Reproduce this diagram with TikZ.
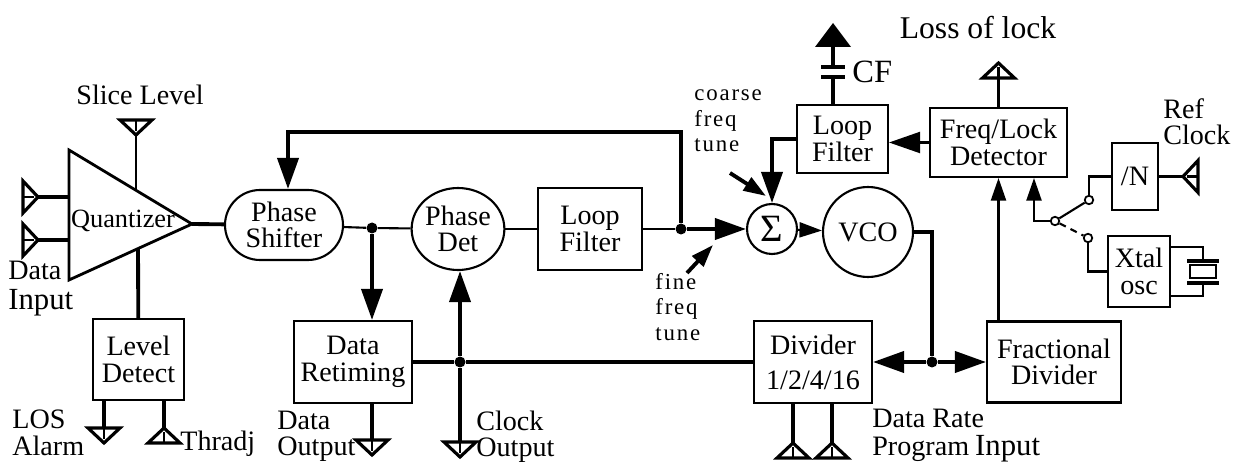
\documentclass[tikz,border=0pt]{standalone}
\usepackage{fontspec}
\setmainfont{Liberation Serif}
\newfontfamily\tunefont[LetterSpace=8]{Liberation Serif}
\usetikzlibrary{arrows.meta,shapes.geometric,shapes.misc}

\newcommand{\lbfont}{\fontsize{16}{15}\selectfont}
\newcommand{\tunesize}{\fontsize{13}{14.5}\tunefont}

\tikzset{
    block/.style = {rectangle, draw=black, line width=1.2pt, inner sep=0pt, align=center, font=\lbfont},
    oval/.style = {rounded rectangle, draw=black, line width=1.2pt, inner sep=0pt, align=center, font=\lbfont},
    roundblock/.style = {ellipse, draw=black, line width=1.2pt, inner sep=0pt, align=center, font=\lbfont},
    lbl/.style = {inner sep=0pt, align=left, font=\lbfont},
    wire/.style = {line width=1.2pt},
    bus/.style = {line width=2.2pt},
    arrow/.style = {-{Triangle[length=0.62cm,width=0.42cm]}},
    smallarrow/.style = {-{Triangle[length=0.45cm,width=0.3cm]}},
    dot/.style = {circle, fill=black, inner sep=0pt, minimum size=0.22cm},
    term/.style = {circle, draw=black, fill=white, line width=1pt, inner sep=0pt, minimum size=0.17cm},
    port/.pic = {
        \draw [line width=1.8pt, line join=miter] (0,0) -- (-15,-16) -- (-15,16) -- cycle;
        \draw [line width=1.2pt] (-15,0) -- (-4,0);
    }
}

\begin{document}
\begin{tikzpicture}[x=0.02cm, y=-0.02cm]
\useasboundingbox (0,0) rectangle (1244,462);

% quantizer
\coordinate (qa) at (69,150);
\coordinate (qb) at (69,280);
\coordinate (qout) at (192,224);
\coordinate (qtop) at (136,190);
\coordinate (qbot) at (138,249);
\coordinate (qin1) at (69,197);
\coordinate (qin2) at (69,240);
\draw [line width=1.6pt, line join=miter] (qa) -- (qout) -- (qb) -- cycle;
\node (quant) [lbl, font=\fontsize{15}{15}\selectfont] at (123,221) {Quantizer};

% blocks
\node (shifter) [oval, minimum width=2.36cm, minimum height=1.4cm] at (284,225) {Phase\\Shifter};
\node (phdet) [roundblock, minimum width=1.78cm, minimum height=1.64cm] at (458,229) {Phase\\Det};
\node (lf1) [block, minimum width=2.08cm, minimum height=1.64cm] at (590,229) {Loop\\Filter};
\node (levdet) [block, minimum width=1.82cm, minimum height=1.62cm] at (138.5,359.5) {Level\\Detect};
\node (retime) [block, minimum width=2.36cm, minimum height=1.64cm] at (353,362) {Data\\Retiming};
\node (sum) [circle, draw=black, line width=1.2pt, inner sep=0pt, minimum size=1cm, font=\fontsize{22}{22}\selectfont] at (772,229) {Σ};
\node (vco) [circle, draw=black, line width=1.2pt, inner sep=0pt, minimum size=1.8cm, font=\lbfont] at (868,232) {VCO};
\node (lf2) [block, minimum width=1.82cm, minimum height=1.36cm] at (842.5,139) {Loop\\Filter};
\node (fld) [block, minimum width=2.74cm, minimum height=1.38cm] at (998.5,142.5) {Freq/Lock\\Detector};
\node (divn) [block, minimum width=0.92cm, minimum height=1.34cm] at (1135,176.5) {/N};
\node (xtal) [block, minimum width=1.24cm, minimum height=1.42cm] at (1139,271.5) {Xtal\\osc};
\node (divider) [block, minimum width=2.36cm, minimum height=1.64cm] at (813,362) {Divider\\[5pt]1/2/4/16};
\node (fracdiv) [block, minimum width=2.68cm, minimum height=1.62cm] at (1054,362) {Fractional\\Divider};

% junctions
\node (dot1) [dot] at (372,228) {};
\node (dot2) [dot] at (460,362) {};
\node (dot3) [dot] at (932,362) {};
\node (dot4) [dot] at (681,229) {};

% ports
\coordinate (din1) at (38,197);
\coordinate (din2) at (38,240);
\coordinate (slice) at (136,135);
\coordinate (los) at (104,428);
\coordinate (thr) at (164,428);
\coordinate (dout) at (372,440);
\coordinate (cout) at (460,442);
\coordinate (lock) at (998.5,78);
\coordinate (refclk) at (1183,176.5);
\coordinate (rate1) at (793,443);
\coordinate (rate2) at (832,443);
\pic at (din1) {port};
\pic at (din2) {port};
\pic [rotate=-90] at (slice) {port};
\pic [rotate=-90] at (104,443) {port};
\pic [rotate=90] at (thr) {port};
\pic [rotate=-90] at (372,455) {port};
\pic [rotate=-90] at (460,457) {port};
\pic [rotate=90] at (998.5,63) {port};
\pic [rotate=180] at (refclk) {port};
\pic [rotate=90] at (rate1) {port};
\pic [rotate=90] at (rate2) {port};

% front end
\draw [bus] (din1) -- (qin1);
\draw [bus] (din2) -- (qin2);
\draw [wire] (slice) -- (qtop);
\draw [bus] (qout) -- (shifter);
\draw [bus] (qbot) -- (levdet);
\draw [bus] (levdet.south -| los) -- (los);
\draw [bus] (levdet.south -| thr) -- (thr);

% data path
\draw [wire] (shifter) -- (dot1) -- (phdet);
\draw [bus, arrow] (dot1) -- (dot1 |- retime.north);
\draw [wire] (phdet) -- (lf1);
\draw [wire] (lf1) -- (dot4);
\draw [bus, arrow] (dot4) -- (sum);
\coordinate (fb1) at (681,132);
\coordinate (fb2) at (288,132);
\draw [bus, arrow] (dot4) -- (fb1) -- (fb2) -- (fb2 |- shifter.north);
\draw [bus] (retime.south -| dout) -- (dout);
\draw [bus] (retime.east |- dot2) -- (dot2) -- (divider);
\draw [bus, arrow] (dot2) -- (dot2 |- phdet.south);
\draw [bus] (dot2) -- (cout);

% clock loop
\coordinate (finetail) at (687,273);
\coordinate (finetip) at (713,245);
\coordinate (coarsetail) at (730,173);
\coordinate (coarsetip) at (766,196);
\draw [bus, smallarrow] (finetail) -- (finetip);
\draw [bus, smallarrow] (coarsetail) -- (coarsetip);
\draw [bus, arrow] (lf2.west) -- (sum.north |- lf2.west) -- (sum.north);
\draw [wire, smallarrow] (sum) -- (vco);
\draw [bus] (vco.east) -- (dot3 |- vco.east) -- (dot3);
\draw [bus, arrow] (dot3) -- (divider);
\draw [bus, arrow] (dot3) -- (fracdiv);
\draw [wire, arrow] (fld.west) -- (fld.west -| lf2.east);
\draw [wire, smallarrow] (fracdiv.north -| fld.south) -- (fld.south);
\draw [wire] (fld) -- (lock);
\draw [bus] (divider.south -| rate1) -- (rate1);
\draw [bus] (divider.south -| rate2) -- (rate2);

% loop filter capacitor
\coordinate (cf) at (833,77);
\coordinate (cfup) at (833,67);
\coordinate (cftri) at (833,47);
\draw [bus] (lf2.north -| cf) -- (cf);
\draw [bus] (821,77) -- (845,77);
\draw [bus] (821,67) -- (845,67);
\draw [bus] (cfup) -- (cftri);
\fill (815,47) -- (833,23) -- (851,47) -- cycle;

% reference select
\node (swc) [term] at (1055,221) {};
\node (swn) [term] at (1089,200) {};
\node (swx) [term] at (1088,238) {};
\coordinate (swl) at (1034,221);
\draw [wire, smallarrow] (swc) -- (swl) -- (swl |- fld.south);
\draw [wire] (swc) -- (swn);
\draw [wire, dashed, dash pattern=on 4pt off 3pt] (swc) -- (swx);
\draw [wire] (swn) -- (swn |- divn.west) -- (divn.west);
\draw [wire] (swx) -- (swx |- xtal.west) -- (xtal.west);
\draw [bus] (divn.east) -- (refclk);

% crystal
\draw [wire] (1170,247) -- (1203,247) -- (1203,261);
\draw [wire] (1170,296) -- (1203,296) -- (1203,283);
\draw [bus] (1187,261) -- (1219,261);
\draw [bus] (1187,283) -- (1219,283);
\draw [wire] (1190,265) rectangle (1216,278);

% labels
\node (slicetxt) [lbl] at (140,95) {Slice Level};
\node (dintxt) [lbl, anchor=west] at (8,289) {Data\\[2pt]{\fontsize{17.5}{15}\selectfont Input}};
\node (lostxt) [lbl, anchor=west] at (12,433) {LOS\\Alarm};
\node (thrtxt) [lbl, anchor=west] at (180,444) {Thradj};
\node (douttxt) [lbl, anchor=west] at (277,436) {Data\\Output};
\node (couttxt) [lbl, anchor=west] at (476,437) {Clock\\Output};
\node (ratetxt) [lbl, anchor=west] at (872,436) {Data Rate\\[1pt]Program\hspace{0.12cm}{\fontsize{17.5}{15}\selectfont Input}};
\node (locktxt) [lbl, font=\fontsize{18}{18}\selectfont] at (978,28) {Loss of lock};
\node (cftxt) [lbl, anchor=west, font=\fontsize{18.5}{18}\selectfont] at (852,72) {CF};
\node (reftxt) [lbl, anchor=west] at (1163,122) {Ref\\Clock};
\node (coarsetxt) [lbl, anchor=west, font=\tunesize] at (694,121) {coarse\\freq\\tune};
\node (finetxt) [lbl, anchor=west, font=\tunesize] at (655,307) {fine\\freq\\tune};
\end{tikzpicture}
\end{document}
